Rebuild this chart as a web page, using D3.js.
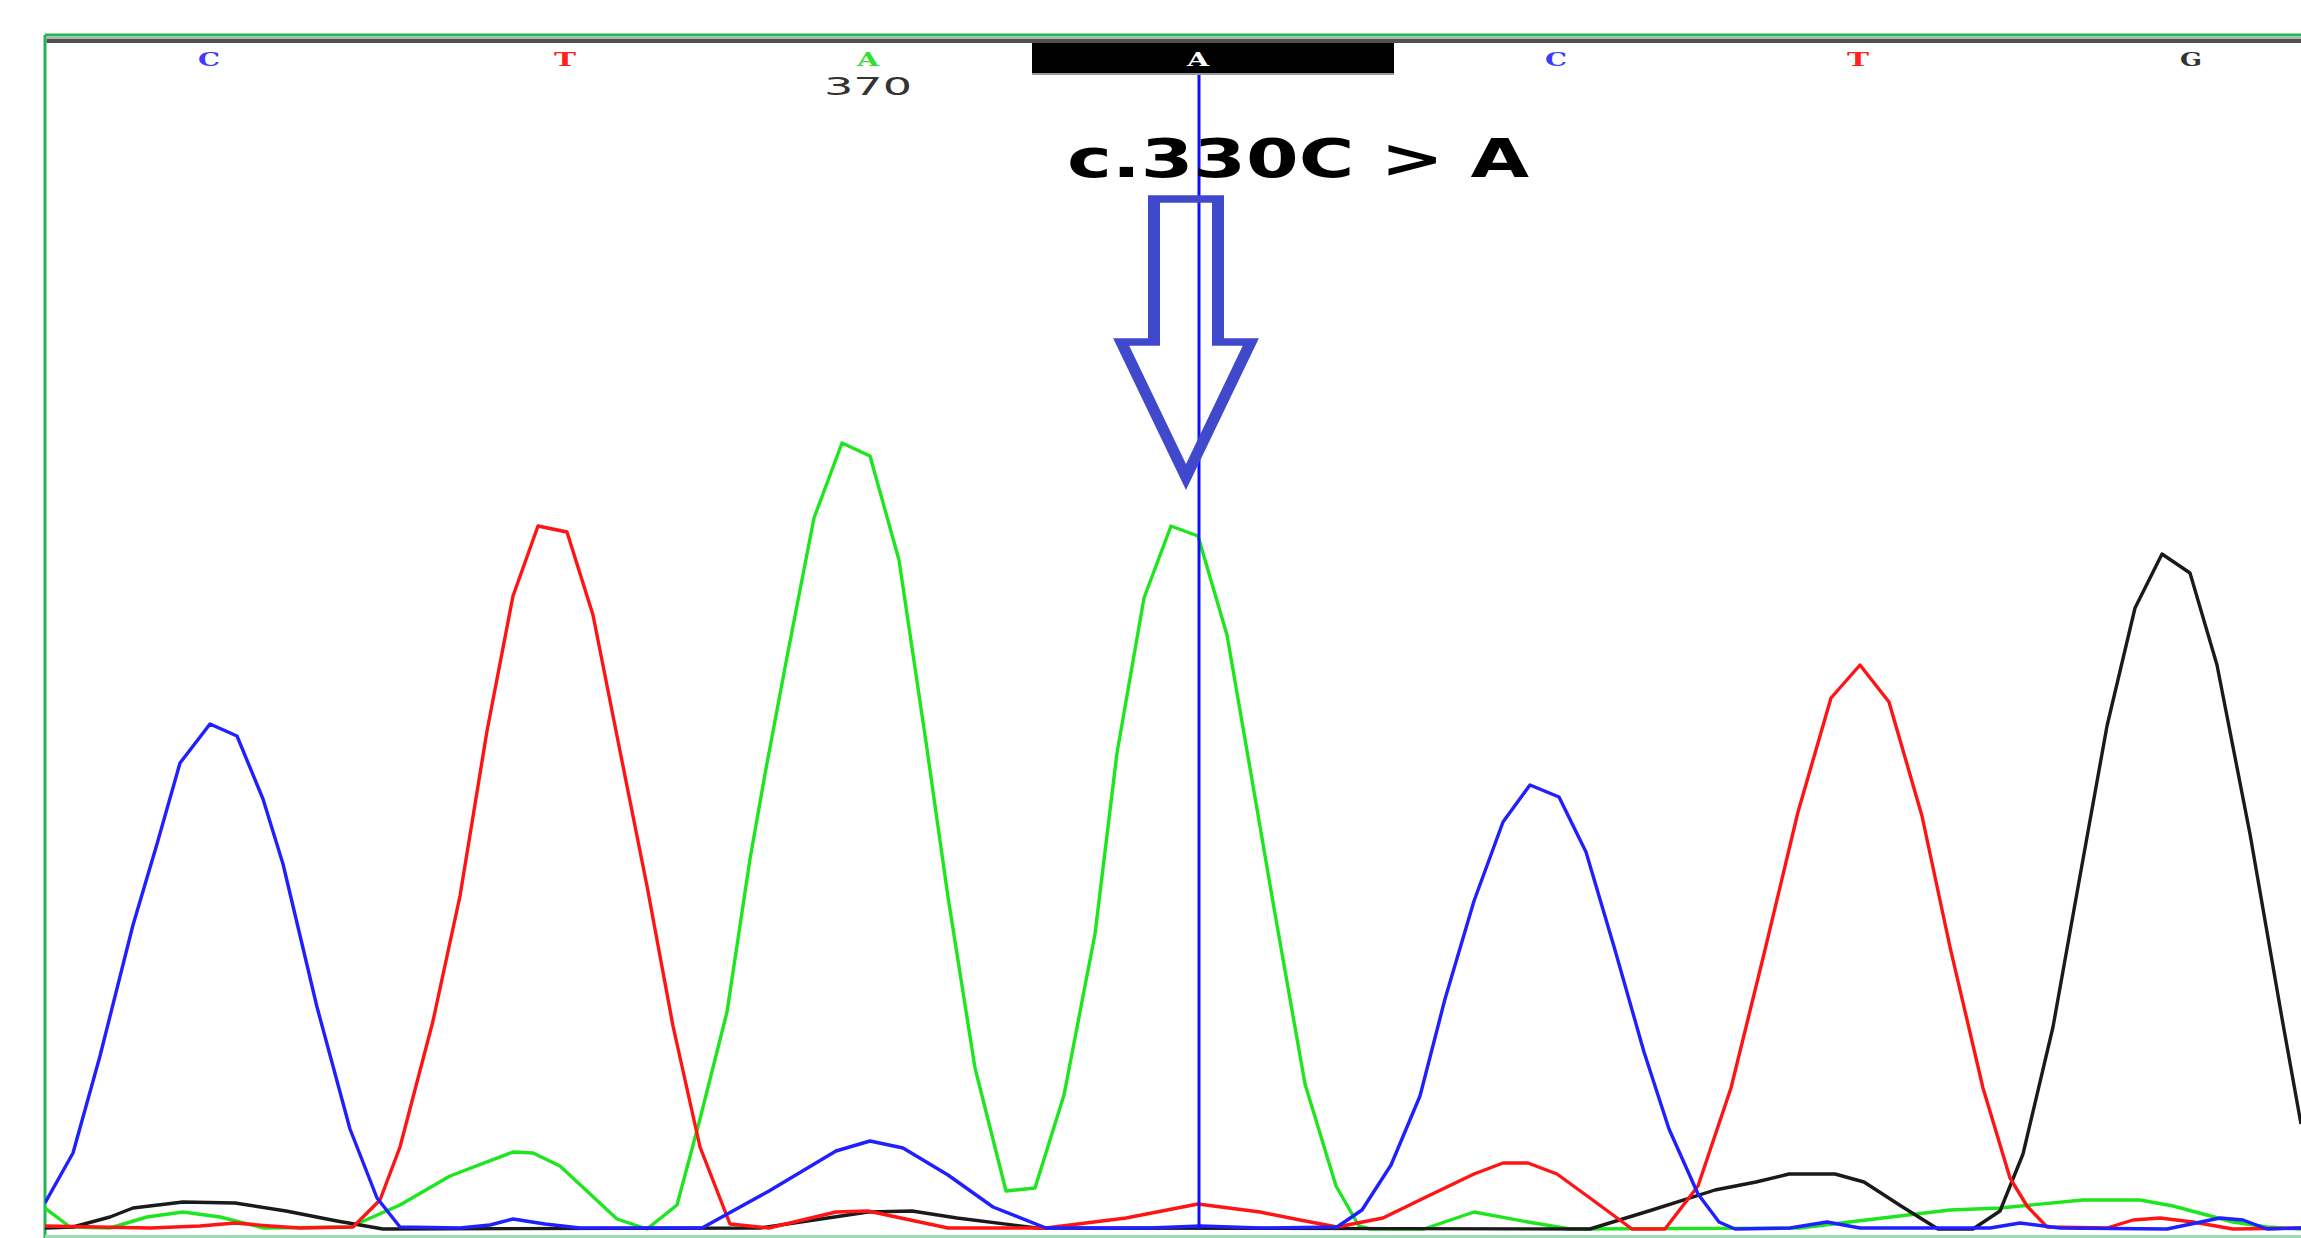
<!DOCTYPE html>
<html>
<head>
<meta charset="utf-8">
<script src="https://cdn.jsdelivr.net/npm/d3@7"></script>
<style>
  html, body { margin: 0; padding: 0; background: #fff; }
  svg { display: block; }
</style>
</head>
<body>
<svg id="chart" width="2301" height="1238"></svg>
<script>
// base calls along the top of the trace
var baseLetters = ['C', 'T', 'A', 'A', 'C', 'T', 'G'];
var baseScans = [209, 565, 868, 1198, 1556, 1858, 2191];
var positionScans = [868];
var positionLabels = ['370'];
var selectedBase = 3;
var mutationLabel = 'c.330C > A';

// one array per dye channel, [scan, signal]
var traceC = [[45,26],[73,76],[100,173],[133,304],[157,385],[180,466],[210,505],[237,493],[263,430],[283,365],[317,222],[350,100],[377,31],[400,2],[460,1],[490,4],[513,10],[545,5],[580,1],[680,1],[702,1],[769,38],[836,78],[870,88],[903,81],[948,54],[993,22],[1046,1],[1150,1],[1200,3],[1260,1],[1337,2],[1362,19],[1391,64],[1420,133],[1445,230],[1474,328],[1503,407],[1530,444],[1559,432],[1586,377],[1615,279],[1644,177],[1669,100],[1698,35],[1719,7],[1735,0],[1790,1],[1827,7],[1860,1],[1990,1],[2020,6],[2060,1],[2167,0],[2220,11],[2243,9],[2267,0],[2301,1]];
var traceT = [[45,3],[150,1],[200,3],[235,6],[270,3],[300,1],[353,2],[380,29],[400,82],[433,208],[460,333],[487,498],[513,633],[538,703],[567,697],[593,614],[620,478],[647,343],[673,203],[700,82],[730,5],[769,1],[836,17],[868,18],[948,1],[1046,1],[1126,11],[1198,25],[1260,17],[1300,9],[1337,2],[1383,11],[1424,31],[1474,55],[1503,66],[1528,66],[1557,55],[1590,31],[1632,0],[1665,0],[1698,43],[1731,141],[1764,275],[1798,417],[1831,531],[1860,564],[1889,527],[1922,413],[1950,282],[1983,141],[2010,51],[2027,23],[2047,2],[2107,1],[2133,9],[2160,11],[2193,7],[2233,0],[2301,1]];
var traceA = [[45,21],[70,2],[110,1],[147,12],[183,17],[220,12],[264,1],[350,2],[400,24],[450,53],[513,77],[533,76],[560,63],[617,10],[647,0],[677,24],[700,110],[727,217],[750,370],[765,455],[787,572],[814,711],[842,786],[870,773],[899,669],[926,487],[948,332],[975,161],[1006,38],[1035,41],[1064,134],[1095,295],[1117,476],[1144,631],[1171,703],[1198,693],[1227,594],[1251,455],[1274,321],[1305,145],[1336,43],[1359,3],[1370,0],[1424,0],[1474,17],[1528,7],[1570,0],[1800,1],[1866,9],[1950,19],[2000,21],[2083,29],[2140,29],[2173,23],[2233,7],[2267,2],[2301,0]];
var traceG = [[45,1],[73,2],[110,12],[133,21],[183,27],[235,26],[286,18],[337,8],[383,0],[760,1],[868,17],[912,18],[957,11],[1037,1],[1590,0],[1652,19],[1715,39],[1756,47],[1789,55],[1835,55],[1864,47],[1901,23],[1938,0],[1973,0],[2000,18],[2023,75],[2053,202],[2080,353],[2107,503],[2135,621],[2162,675],[2190,656],[2217,564],[2250,395],[2283,205],[2301,105]];

var dyeColor = {A: '#1ee61e', C: '#1f1fff', G: '#1a1a1a', T: '#ff1414'};
var letterColor = {A: '#33dd33', C: '#3b3bff', G: '#333', T: '#ff2020'};

var svg = d3.select('#chart');
var W = 2301, H = 1238;
var frameLeft = 45, frameTop = 35, baseline = 1229;

var x = d3.scaleLinear().domain([0, W]).range([0, W]);
var y = d3.scaleLinear().domain([0, 1000]).range([baseline, baseline - 1000]);

svg.append('rect').attr('width', W).attr('height', H).attr('fill', '#fff');

svg.append('clipPath').attr('id', 'plot')
  .append('rect').attr('x', frameLeft).attr('y', frameTop + 8)
  .attr('width', W - frameLeft).attr('height', H - frameTop - 10);

// frame
svg.append('line').attr('x1', frameLeft).attr('x2', W).attr('y1', frameTop).attr('y2', frameTop)
  .attr('stroke', '#22b455').attr('stroke-width', 3);
svg.append('line').attr('x1', frameLeft).attr('x2', frameLeft).attr('y1', frameTop).attr('y2', H)
  .attr('stroke', '#22b455').attr('stroke-width', 3);
svg.append('line').attr('x1', frameLeft).attr('x2', W).attr('y1', H - 1.5).attr('y2', H - 1.5)
  .attr('stroke', '#9edcb2').attr('stroke-width', 3);
svg.append('rect').attr('x', frameLeft + 1.5).attr('y', frameTop + 2).attr('width', W - frameLeft).attr('height', 2)
  .attr('fill', '#b0b0b0');
svg.append('rect').attr('x', frameLeft + 1.5).attr('y', frameTop + 4).attr('width', W - frameLeft).attr('height', 4)
  .attr('fill', '#505050');

// selected base box
var boxW = 362;
svg.append('rect')
  .attr('x', x(baseScans[selectedBase]) - 166).attr('y', frameTop + 8)
  .attr('width', boxW).attr('height', 30)
  .attr('fill', '#000');
svg.append('rect')
  .attr('x', x(baseScans[selectedBase]) - 166).attr('y', frameTop + 38)
  .attr('width', boxW).attr('height', 2)
  .attr('fill', '#999');

// base letters
svg.append('g').selectAll('text')
  .data(baseLetters)
  .join('text')
  .attr('x', function(d, i) { return x(baseScans[i]); })
  .attr('y', 66)
  .attr('text-anchor', 'middle')
  .attr('font-family', 'DejaVu Serif')
  .attr('font-weight', 'bold')
  .attr('font-size', 19)
  .attr('textLength', 22)
  .attr('lengthAdjust', 'spacingAndGlyphs')
  .attr('fill', function(d, i) { return i === selectedBase ? '#fff' : letterColor[d]; })
  .text(function(d) { return d; });

svg.append('g').selectAll('text')
  .data(positionLabels)
  .join('text')
  .attr('x', function(d, i) { return x(positionScans[i]); })
  .attr('y', 95)
  .attr('text-anchor', 'middle')
  .attr('font-family', 'DejaVu Sans')
  .attr('font-size', 25)
  .attr('textLength', 88)
  .attr('lengthAdjust', 'spacingAndGlyphs')
  .attr('fill', '#333')
  .text(function(d) { return d; });

// traces
var line = d3.line()
  .x(function(d) { return x(d[0]); })
  .y(function(d) { return y(d[1]); });

var traces = [
  {base: 'A', values: traceA},
  {base: 'G', values: traceG},
  {base: 'T', values: traceT},
  {base: 'C', values: traceC}
];

svg.append('g').attr('clip-path', 'url(#plot)')
  .selectAll('path')
  .data(traces)
  .join('path')
  .attr('d', function(d) { return line(d.values); })
  .attr('fill', 'none')
  .attr('stroke', function(d) { return dyeColor[d.base]; })
  .attr('stroke-width', 3.4)
  .attr('stroke-linejoin', 'round');

// cursor at the selected base
var cx = x(baseScans[selectedBase]) + 1;
svg.append('line')
  .attr('x1', cx).attr('x2', cx)
  .attr('y1', frameTop + 40).attr('y2', baseline)
  .attr('stroke', '#1010ff').attr('stroke-width', 3);

// mutation annotation
svg.append('text')
  .attr('x', 1067).attr('y', 177)
  .attr('font-family', 'DejaVu Sans')
  .attr('font-weight', 'bold')
  .attr('font-size', 53)
  .attr('textLength', 462)
  .attr('lengthAdjust', 'spacingAndGlyphs')
  .attr('fill', '#000')
  .text(mutationLabel);

// hollow arrow, drawn narrow and stretched sideways like the picture
var ax = cx - 13;
var arrowPts = [[-20, 199], [20, 199], [20, 342], [40.5, 342], [0, 477], [-40.5, 342], [-20, 342]];
svg.append('g')
  .attr('transform', 'translate(' + ax + ',0) scale(1.6,1)')
  .append('polygon')
  .attr('points', arrowPts.map(function(p) { return p.join(','); }).join(' '))
  .attr('fill', 'none')
  .attr('stroke', '#4049cc')
  .attr('stroke-width', 7.5)
  .attr('stroke-linejoin', 'miter');
</script>
</body>
</html>
